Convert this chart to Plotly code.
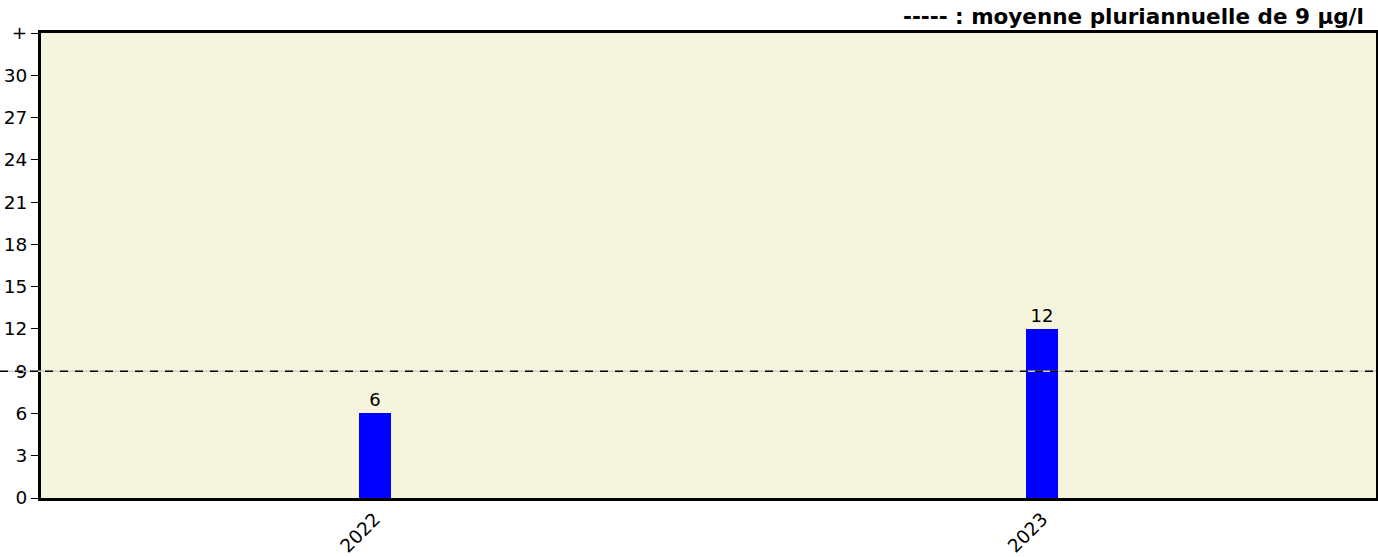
import plotly.graph_objects as go

years = ["2022", "2023"]
values = [6, 12]
mean_value = 9
y_ticks = [0, 3, 6, 9, 12, 15, 18, 21, 24, 27, 30, 33]
y_tick_labels = ["0", "3", "6", "9", "12", "15", "18", "21", "24", "27", "30", "+"]
legend_text = "----- : moyenne pluriannuelle de 9 µg/l"

W, H = 1378, 557
ml, mr, mt, mb = 41, 2, 33, 59
plot_w = W - ml - mr

fig = go.Figure()
fig.add_trace(go.Bar(
    x=years, y=values, width=0.048,
    marker=dict(color="#0000ff", line=dict(width=0)),
    text=[str(v) for v in values], textposition="outside",
    textfont=dict(family="DejaVu Sans", size=18, color="#000"),
    cliponaxis=False,
))

fig.add_shape(type="line", xref="paper", yref="y",
              x0=-ml / plot_w, x1=1, y0=mean_value, y1=mean_value,
              line=dict(color="#d0d0d0", width=1.5), layer="above")
fig.add_shape(type="line", xref="paper", yref="y",
              x0=-ml / plot_w, x1=1, y0=mean_value, y1=mean_value,
              line=dict(color="black", width=1.5, dash="8px,7px"), layer="above")

fig.add_annotation(xref="paper", yref="paper", x=(W - 12 - ml) / plot_w, y=1,
                   yshift=2, xanchor="right", yanchor="bottom",
                   text="<b>" + legend_text + "</b>", showarrow=False,
                   font=dict(family="DejaVu Sans", size=21.5, color="#000"))

fig.update_layout(
    width=W, height=H,
    margin=dict(l=ml, r=mr, t=mt, b=mb, autoexpand=False),
    paper_bgcolor="white", plot_bgcolor="#f5f4dc",
    showlegend=False, bargap=0,
    font=dict(family="DejaVu Sans", size=18, color="#000"),
)
fig.update_xaxes(type="category", showgrid=False, tickangle=-45, automargin=False,
                 tickfont=dict(family="DejaVu Sans", size=18.5),
                 showline=True, linecolor="black", linewidth=3, mirror=True,
                 ticks="", zeroline=False)
fig.update_yaxes(range=[0, 33], tickvals=y_ticks, ticktext=y_tick_labels,
                 automargin=False,
                 showgrid=False, zeroline=False, ticks="outside", ticklen=7,
                 tickcolor="black", tickwidth=1,
                 tickfont=dict(family="DejaVu Sans", size=18.5),
                 showline=True, linecolor="black", linewidth=3, mirror=True)

fig.write_html("out.html", config={"displayModeBar": False},
               post_script="document.body.style.margin='0';document.body.style.overflow='hidden';")
